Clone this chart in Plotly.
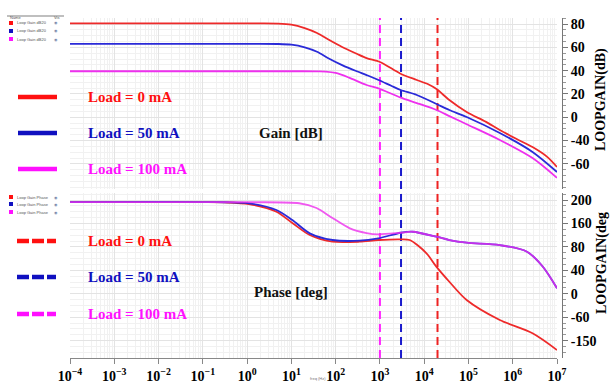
import plotly.graph_objects as go

# ---------------- data ----------------
# Gain [dB]
gain_f_red = [1e-4, 1, 5, 10, 20, 38, 70, 140, 300, 500, 1000, 2000, 3000, 6800, 12000, 19000, 37000, 91000, 2.5e5, 5.1e5, 1.2e6, 2.8e6, 6e6, 1e7]
gain_red   = [80.5, 80.5, 80.4, 79.5, 76.5, 72.3, 66.5, 60.3, 54.5, 50.8, 47.4, 41.0, 37.1, 32.0, 28.5, 24.2, 14.8, 4.5, -4.0, -11.0, -18.5, -25.6, -34.0, -42.7]

gain_f_blue = [1e-4, 1, 5, 10, 20, 38, 70, 140, 300, 500, 930, 1800, 2950, 6800, 19000, 37000, 91000, 5.1e5, 2.8e6, 1e7]
gain_blue   = [63.0, 63.0, 62.9, 62.3, 60.0, 56.2, 50.5, 44.8, 39.5, 36.2, 32.0, 27.0, 23.4, 19.1, 11.4, 6.2, 0.2, -13.5, -29.8, -47.0]

gain_f_mag = [1e-4, 1, 10, 40, 60, 100, 200, 500, 930, 2950, 6800, 19000, 37000, 91000, 5.1e5, 2.8e6, 1e7]
gain_mag   = [39.5, 39.5, 39.5, 39.4, 39.2, 38.0, 34.0, 27.7, 24.8, 16.8, 12.2, 6.2, 1.0, -6.0, -19.5, -35.0, -52.0]

# Phase [deg]
ph_f_red = [1e-4, 0.3, 1.1, 4.6, 10.5, 26, 85, 345, 930, 2950, 4700, 11000, 19000, 37000, 91000, 5.1e5, 2.8e6, 1e7]
ph_red   = [196.5, 196.0, 193.2, 180.0, 160.8, 140.3, 128.9, 128.9, 131.8, 133.0, 131.8, 110.0, 86.0, 60.6, 29.4, -4.7, -27.4, -55.9]

ph_f_blue = [1e-4, 0.3, 1.1, 4.6, 10.5, 26, 85, 345, 930, 2950, 5500, 19000, 37000, 91000, 5.1e5, 2.1e6, 4.8e6, 1e7]
ph_blue   = [196.5, 196.2, 194.4, 183.0, 165.9, 143.2, 131.8, 130.6, 134.7, 144.2, 145.9, 137.4, 131.8, 127.2, 123.2, 111.8, 86.2, 49.4]

ph_f_mag = [1e-4, 1, 15, 37, 85, 204, 500, 930, 2950, 5500, 19000, 37000, 91000, 5.1e5, 2.1e6, 4.8e6, 1e7]
ph_mag   = [196.5, 196.3, 194.5, 186.4, 169.3, 152.2, 143.7, 141.5, 144.2, 145.9, 137.4, 131.8, 127.2, 123.2, 111.8, 86.2, 49.4]

# crossover markers (dashed verticals)
marker_f      = [1e3, 3e3, 2e4]
marker_colors = ["#ff22ff", "#1a1acc", "#ee2222"]

# axis ticks
x_tickvals = [10**n for n in range(-4, 8)]
x_ticktext = ["10<sup>%s</sup>" % (str(n).replace("-", "\u2212")) for n in range(-4, 8)]
g_tickvals = [80, 60, 40, 20, 0, -20, -40]
g_ticktext = ["80", "60", "40", "20", "0", "-40", "-60"]
p_tickvals = [200, 160, 120, 80, 40, 0, -40]
p_ticktext = ["200", "160", "80", "40", "0", "-60", "-150"]

legend_labels = ["Load = 0 mA", "Load = 50 mA", "Load = 100 mA"]
legend_colors = ["#ff1010", "#1010c0", "#ff10ff"]
line_colors = ["#ee2a2a", "#2a2ad8", "#ee30ee"]

G_RANGE = [-61.6, 85.2]
P_RANGE = [-69.5, 212.0]

# ---------------- layout helpers ----------------
W, H = 610, 387
L, R, T, B = 70, 48, 18, 29
PW, PH = W - L - R, H - T - B
def px(x):
    return (x - L) / PW
def py(y):
    return (H - B - y) / PH

SERIF = "Liberation Serif"

fig = go.Figure()

# dashed vertical markers in both panels
for f, c in zip(marker_f, marker_colors):
    fig.add_trace(go.Scatter(x=[f, f], y=G_RANGE, mode="lines", xaxis="x", yaxis="y",
                             line=dict(color=c, width=2, dash="8px,5px"), showlegend=False, hoverinfo="skip"))
    fig.add_trace(go.Scatter(x=[f, f], y=P_RANGE, mode="lines", xaxis="x2", yaxis="y2",
                             line=dict(color=c, width=2, dash="8px,5px"), showlegend=False, hoverinfo="skip"))

gain_sets = [(gain_f_red, gain_red), (gain_f_blue, gain_blue), (gain_f_mag, gain_mag)]
for (fx, fy), c in zip(gain_sets, line_colors):
    fig.add_trace(go.Scatter(x=fx, y=fy, mode="lines", xaxis="x", yaxis="y",
                             line=dict(color=c, width=1.8, shape="spline", smoothing=0.8), showlegend=False))

phase_sets = [(ph_f_red, ph_red, line_colors[0], 1.0),
              (ph_f_blue, ph_blue, line_colors[1], 1.0),
              (ph_f_mag, ph_mag, line_colors[2], 0.8)]
for fx, fy, c, op in phase_sets:
    fig.add_trace(go.Scatter(x=fx, y=fy, mode="lines", xaxis="x2", yaxis="y2", opacity=op,
                             line=dict(color=c, width=1.8, shape="spline", smoothing=0.8), showlegend=False))

xdom = [0, (557 - L) / PW]
grid_major = "#e3e3e3"
grid_minor = "#f1f1f1"

common_x = dict(type="log", range=[-4, 7], domain=xdom, showgrid=True, gridcolor=grid_major,
                tickmode="array", tickvals=x_tickvals, zeroline=False, automargin=False,
                minor=dict(dtick="D1", showgrid=True, gridcolor=grid_minor))

fig.update_layout(
    width=W, height=H, margin=dict(l=L, r=R, t=T, b=B, autoexpand=False),
    paper_bgcolor="white", plot_bgcolor="white",
    xaxis=dict(**common_x, anchor="y", showticklabels=False, ticks=""),
    xaxis2=dict(**common_x, anchor="y2", matches="x", ticktext=x_ticktext,
                showline=True, linecolor="#888888", linewidth=1, ticks="outside", ticklen=5,
                tickcolor="#888888",
                tickfont=dict(family=SERIF, size=14, color="black", weight="bold")),
    yaxis=dict(domain=[py(189), 1.0], range=G_RANGE, side="right", anchor="free", position=1.0,
               tickmode="array", tickvals=g_tickvals, ticktext=g_ticktext, automargin=False,
               showgrid=True, gridcolor=grid_major, zeroline=False,
               showline=True, linecolor="#777777", ticks="outside", ticklen=5, tickcolor="#777777",
               minor=dict(dtick=5, tick0=0, ticks="outside", ticklen=3, tickcolor="#999999",
                          showgrid=True, gridcolor=grid_minor),
               tickfont=dict(family=SERIF, size=14, color="black", weight="bold")),
    yaxis2=dict(domain=[0, py(193)], range=P_RANGE, side="right", anchor="free", position=1.0,
                tickmode="array", tickvals=p_tickvals, ticktext=p_ticktext, automargin=False,
                showgrid=True, gridcolor=grid_major, zeroline=False,
                showline=True, linecolor="#777777", ticks="outside", ticklen=5, tickcolor="#777777",
                minor=dict(dtick=10, tick0=0, ticks="outside", ticklen=3, tickcolor="#999999",
                           showgrid=True, gridcolor=grid_minor),
                tickfont=dict(family=SERIF, size=14, color="black", weight="bold")),
    showlegend=False,
)

ann = []
shapes = []

# right axis titles
ann.append(dict(x=px(601), y=py(100), xref="paper", yref="paper", text="<b>LOOPGAIN(dB)</b>",
                textangle=-90, showarrow=False, font=dict(family=SERIF, size=14, color="black"),
                xanchor="center", yanchor="middle"))
ann.append(dict(x=px(602), y=py(263), xref="paper", yref="paper", text="<b>LOOPGAIN(deg</b>",
                textangle=-90, showarrow=False, font=dict(family=SERIF, size=14, color="black"),
                xanchor="center", yanchor="middle"))

# panel labels
ann.append(dict(x=px(291), y=py(133), xref="paper", yref="paper", text="<b>Gain [dB]</b>",
                showarrow=False, font=dict(family=SERIF, size=15, color="#111111")))
ann.append(dict(x=px(291), y=py(302), xref="paper", yref="paper", text="<b>Phase [deg]</b>",
                showarrow=False, font=dict(family=SERIF, size=15, color="#111111")))

# tiny freq label
ann.append(dict(x=px(318), y=py(383), xref="paper", yref="paper", text="freq (Hz)",
                showarrow=False, font=dict(family="Liberation Sans", size=4, color="#777777")))

# big manual legends
gain_leg_y = [97, 133, 169]
phase_leg_y = [241, 277, 314]
for lab, col, yg, yp in zip(legend_labels, legend_colors, gain_leg_y, phase_leg_y):
    shapes.append(dict(type="line", xref="paper", yref="paper", x0=px(18), x1=px(57), y0=py(yg), y1=py(yg),
                       line=dict(color=col, width=4.5)))
    shapes.append(dict(type="line", xref="paper", yref="paper", x0=px(17), x1=px(56), y0=py(yp), y1=py(yp),
                       line=dict(color=col, width=4.5, dash="12px,3px")))
    for yy in (yg, yp):
        ann.append(dict(x=px(86), y=py(yy), xref="paper", yref="paper", text="<b>%s</b>" % lab,
                        showarrow=False, xanchor="left", yanchor="middle",
                        font=dict(family=SERIF, size=15, color=col)))

# tiny tool-tip like table (top-left)
tiny = dict(family="Liberation Sans Narrow, Liberation Sans", size=4, color="#555555")
ann.append(dict(x=px(8), y=py(13), xref="paper", yref="paper", text="Name", showarrow=False,
                xanchor="left", font=tiny))
ann.append(dict(x=px(52), y=py(13), xref="paper", yref="paper", text="Vis", showarrow=False,
                xanchor="left", font=tiny))
shapes.append(dict(type="line", xref="paper", yref="paper", x0=px(7), x1=px(64), y0=py(16), y1=py(16),
                   line=dict(color="#aaaaaa", width=1.5)))
table_rows = [("Loop Gain dB20", [23, 31, 39]), ("Loop Gain Phase", [197, 204, 212])]
for txt, ys in table_rows:
    for yy, col in zip(ys, legend_colors):
        shapes.append(dict(type="rect", xref="paper", yref="paper", x0=px(9), x1=px(13),
                           y0=py(yy + 2), y1=py(yy - 2), fillcolor=col, line=dict(width=0)))
        ann.append(dict(x=px(15), y=py(yy), xref="paper", yref="paper", text=txt, showarrow=False,
                        xanchor="left", yanchor="middle", font=tiny))
        ann.append(dict(x=px(56), y=py(yy), xref="paper", yref="paper", text="\u25c9", showarrow=False,
                        xanchor="center", yanchor="middle",
                        font=dict(family="DejaVu Sans", size=4, color="#7788aa")))

fig.update_layout(annotations=ann, shapes=shapes)
fig.write_html("out.html", config={"displayModeBar": False},
               post_script="document.body.style.margin='0px';")
